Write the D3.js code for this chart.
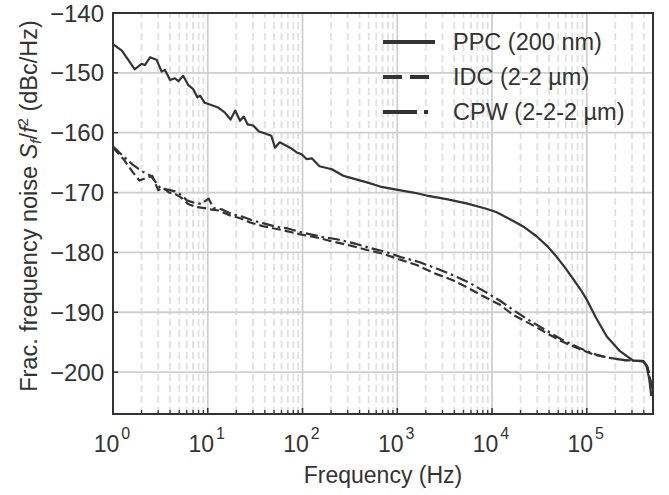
<!DOCTYPE html>
<html>
<head>
<meta charset="utf-8">
<script src="https://cdn.jsdelivr.net/npm/d3@7"></script>
<style>
  body { margin: 0; background: #fff; }
  svg { display: block; font-family: "Liberation Sans", Arial, sans-serif; }
</style>
</head>
<body>
<div id="chart"></div>
<script>
// PPC (200 nm) trace
const ppcFreq = [1, 1.24, 1.7, 2.0, 2.17, 2.46, 2.88, 3.26, 3.53, 4.0, 4.5, 4.9, 5.5, 6.2, 7.0, 7.8, 8.3, 9.3,
  10.5, 12.9, 15.1, 17.4, 19.5, 21.9, 24, 26.3, 30.2, 34.7, 39.8, 46.8, 51.3, 57.5, 74, 87, 98,
  110, 126, 151, 204, 269, 316, 479, 661, 977, 1480, 2040, 3310, 5370, 8710,
  11200, 16600, 22000, 29500, 38000, 47900, 60000, 72400, 86000, 100000, 126000, 162000, 224000, 309000, 389000, 427000, 457000, 480000];
const ppcNoise = [-145.2, -146.3, -149.4, -148.5, -148.7, -147.4, -147.8, -149.8, -149.5, -151.2, -150.9, -151.4, -150.5, -152.0, -152.7, -154.1, -153.8, -155.0,
  -155.3, -155.8, -156.6, -157.8, -156.3, -158.0, -157.3, -158.6, -158.8, -159.8, -160.1, -160.5, -162.5, -161.6, -162.5, -163.3, -163.6,
  -164.4, -164.3, -165.6, -166.1, -167.2, -167.5, -168.3, -169.0, -169.5, -170.0, -170.5, -171.1, -171.8, -172.7,
  -173.3, -174.7, -175.8, -177.3, -178.9, -180.7, -182.7, -184.5, -186.2, -187.9, -191.0, -194.0, -196.5, -198.1, -198.1, -199.0, -201.2, -204.0];

// IDC (2-2 um) trace
const idcFreq = [1, 1.3, 1.6, 1.9, 2.2, 2.6, 3.0, 3.4, 3.9, 4.6, 5.2, 6.2, 7.5, 9.3, 10.5, 13, 17, 22, 28, 38, 50, 63, 95,
  150, 210, 330, 480, 700, 1070, 1600, 2400, 3800, 5400, 8000, 12000, 16600, 25000, 37000, 55000, 85000,
  120000, 170000, 250000, 330000, 400000, 440000, 470000, 490000];
const idcNoise = [-162.5, -164.5, -166.5, -168.0, -167.6, -167.2, -169.6, -169.2, -170.0, -170.3, -170.8, -171.9, -172.4, -172.6, -172.8, -173.0, -173.8, -174.3, -175.0, -175.6, -176.0, -176.3, -177.0,
  -177.6, -178.2, -178.9, -179.6, -180.2, -181.2, -182.1, -183.4, -184.6, -185.8, -187.3, -188.7, -190.4, -191.9, -193.4, -194.9, -196.2,
  -197.1, -197.6, -198.0, -198.1, -198.2, -199.2, -201.5, -203.0];

// CPW (2-2-2 um) trace
const cpwFreq = [1, 1.3, 1.6, 2.0, 2.5, 2.9, 3.2, 3.8, 4.5, 5.3, 6.0, 7.2, 8.5, 10.2, 11.5, 14, 18, 23, 30, 40, 52, 70, 100,
  160, 230, 350, 500, 750, 1100, 1700, 2600, 4000, 5800, 8500, 12500, 17000, 25000, 37000, 55000, 85000,
  120000, 170000, 250000, 330000, 400000, 440000, 470000, 490000];
const cpwNoise = [-162.3, -164.0, -165.3, -166.4, -167.2, -168.5, -169.4, -169.5, -169.8, -170.4, -171.3, -171.7, -171.9, -171.0, -172.6, -172.8, -173.6, -174.0, -174.7, -175.2, -175.7, -176.0, -176.7,
  -177.4, -177.8, -178.5, -179.2, -179.9, -180.8, -181.6, -182.7, -183.9, -185.1, -186.6, -188.2, -189.7, -191.4, -193.0, -194.6, -196.0,
  -197.0, -197.6, -198.0, -198.1, -198.2, -199.2, -201.5, -203.0];

const seriesNames = ["PPC (200 nm)", "IDC (2-2 \u00b5m)", "CPW (2-2-2 \u00b5m)"];
const yTicks = [-140, -150, -160, -170, -180, -190, -200];
const xDecades = [0, 1, 2, 3, 4, 5];

const width = 669;
const height = 495;
const margin = { top: 13, right: 16, bottom: 81, left: 113 };
const ink = "#333333";

const svg = d3.select("#chart").append("svg")
  .attr("width", width)
  .attr("height", height);

const x = d3.scaleLog().domain([1, 5e5]).range([margin.left, width - margin.right]);
const y = d3.scaleLinear().domain([-207, -140]).range([height - margin.bottom, margin.top]);

// minor positions 2..9 per decade, inside the domain
const minorX = [];
xDecades.forEach((d) => {
  for (let k = 2; k <= 9; k++) {
    const v = k * Math.pow(10, d);
    if (v < 5e5) minorX.push(v);
  }
});

const grid = svg.append("g");
grid.selectAll(".minor")
  .data(minorX)
  .join("line")
  .attr("x1", (d) => x(d)).attr("x2", (d) => x(d))
  .attr("y1", y.range()[0]).attr("y2", y.range()[1])
  .attr("stroke", "#e0e0e0")
  .attr("stroke-width", 1.8)
  .attr("stroke-dasharray", "7,4");

grid.selectAll(".majx")
  .data(xDecades.map((d) => Math.pow(10, d)))
  .join("line")
  .attr("x1", (d) => x(d)).attr("x2", (d) => x(d))
  .attr("y1", y.range()[0]).attr("y2", y.range()[1])
  .attr("stroke", "#cfcfcf")
  .attr("stroke-width", 1.8);

grid.selectAll(".majy")
  .data(yTicks)
  .join("line")
  .attr("x1", x.range()[0]).attr("x2", x.range()[1])
  .attr("y1", (d) => y(d)).attr("y2", (d) => y(d))
  .attr("stroke", "#cfcfcf")
  .attr("stroke-width", 1.8);

// curves
svg.append("clipPath").attr("id", "plot-clip")
  .append("rect")
  .attr("x", x.range()[0]).attr("y", y.range()[1])
  .attr("width", x.range()[1] - x.range()[0])
  .attr("height", y.range()[0] - y.range()[1]);

const line = d3.line().x((d) => x(d[0])).y((d) => y(d[1]));
const series = [
  { name: seriesNames[0], pts: d3.zip(ppcFreq, ppcNoise), dash: null },
  { name: seriesNames[1], pts: d3.zip(idcFreq, idcNoise), dash: "9,4" },
  { name: seriesNames[2], pts: d3.zip(cpwFreq, cpwNoise), dash: "12,4,2.5,4" }
];

svg.append("g")
  .attr("clip-path", "url(#plot-clip)")
  .selectAll("path")
  .data(series)
  .join("path")
  .attr("d", (d) => line(d.pts))
  .attr("fill", "none")
  .attr("stroke", ink)
  .attr("stroke-width", 2.2)
  .attr("stroke-linejoin", "round")
  .attr("stroke-dasharray", (d) => d.dash);

// frame
svg.append("rect")
  .attr("x", x.range()[0]).attr("y", y.range()[1])
  .attr("width", x.range()[1] - x.range()[0])
  .attr("height", y.range()[0] - y.range()[1])
  .attr("fill", "none")
  .attr("stroke", ink)
  .attr("stroke-width", 2);

// inward ticks
const yBottom = y.range()[0];
svg.append("g").selectAll("line")
  .data(minorX)
  .join("line")
  .attr("x1", (d) => x(d)).attr("x2", (d) => x(d))
  .attr("y1", yBottom).attr("y2", yBottom - 4)
  .attr("stroke", ink).attr("stroke-width", 1.3);

svg.append("g").selectAll("line")
  .data(xDecades.map((d) => Math.pow(10, d)))
  .join("line")
  .attr("x1", (d) => x(d)).attr("x2", (d) => x(d))
  .attr("y1", yBottom).attr("y2", yBottom - 6)
  .attr("stroke", ink).attr("stroke-width", 1.5);

svg.append("g").selectAll("line")
  .data(yTicks)
  .join("line")
  .attr("x1", x.range()[0]).attr("x2", x.range()[0] + 5)
  .attr("y1", (d) => y(d)).attr("y2", (d) => y(d))
  .attr("stroke", ink).attr("stroke-width", 1.5);

// tick labels
svg.append("g").selectAll("text")
  .data(yTicks)
  .join("text")
  .attr("x", x.range()[0] - 9)
  .attr("y", (d) => y(d) + 8.5)
  .attr("text-anchor", "end")
  .attr("font-size", 24)
  .attr("fill", ink)
  .text((d) => "\u2212" + Math.abs(d));

const xLab = svg.append("g").selectAll("text")
  .data(xDecades)
  .join("text")
  .attr("x", (d) => x(Math.pow(10, d)) - 1)
  .attr("y", 452)
  .attr("text-anchor", "middle")
  .attr("font-size", 23)
  .attr("fill", ink);
xLab.append("tspan").text("10");
xLab.append("tspan").attr("dx", 2).attr("dy", -13).attr("font-size", 16).text((d) => d);

// axis titles
svg.append("text")
  .attr("x", (x.range()[0] + x.range()[1]) / 2)
  .attr("y", 483)
  .attr("text-anchor", "middle")
  .attr("font-size", 23)
  .attr("fill", ink)
  .text("Frequency (Hz)");

const yTitle = svg.append("text")
  .attr("transform", "translate(37,206) rotate(-90)")
  .attr("text-anchor", "middle")
  .attr("font-size", 23.5)
  .attr("fill", ink);
yTitle.append("tspan").text("Frac. frequency noise  ");
yTitle.append("tspan").attr("font-style", "italic").text("S");
yTitle.append("tspan").attr("font-style", "italic").attr("font-size", 15).attr("dy", 4).text("f");
yTitle.append("tspan").attr("dy", -4).text("/");
yTitle.append("tspan").attr("font-style", "italic").text("f");
yTitle.append("tspan").attr("font-size", 15).attr("dy", -9).text("2");
yTitle.append("tspan").attr("dy", 9).text("  (dBc/Hz)");

// legend
const legend = svg.append("g").selectAll("g")
  .data(series)
  .join("g")
  .attr("transform", (d, i) => `translate(383,${42 + i * 35})`);
legend.append("line")
  .attr("x1", 0).attr("x2", 52)
  .attr("stroke", ink)
  .attr("stroke-width", 4)
  .attr("stroke-dasharray", (d, i) => (i === 1 ? "19,8" : i === 2 ? "34,7,4,7" : null));
legend.append("text")
  .attr("x", 70)
  .attr("y", 8)
  .attr("font-size", 23.5)
  .attr("fill", ink)
  .text((d) => d.name);
</script>
</body>
</html>
